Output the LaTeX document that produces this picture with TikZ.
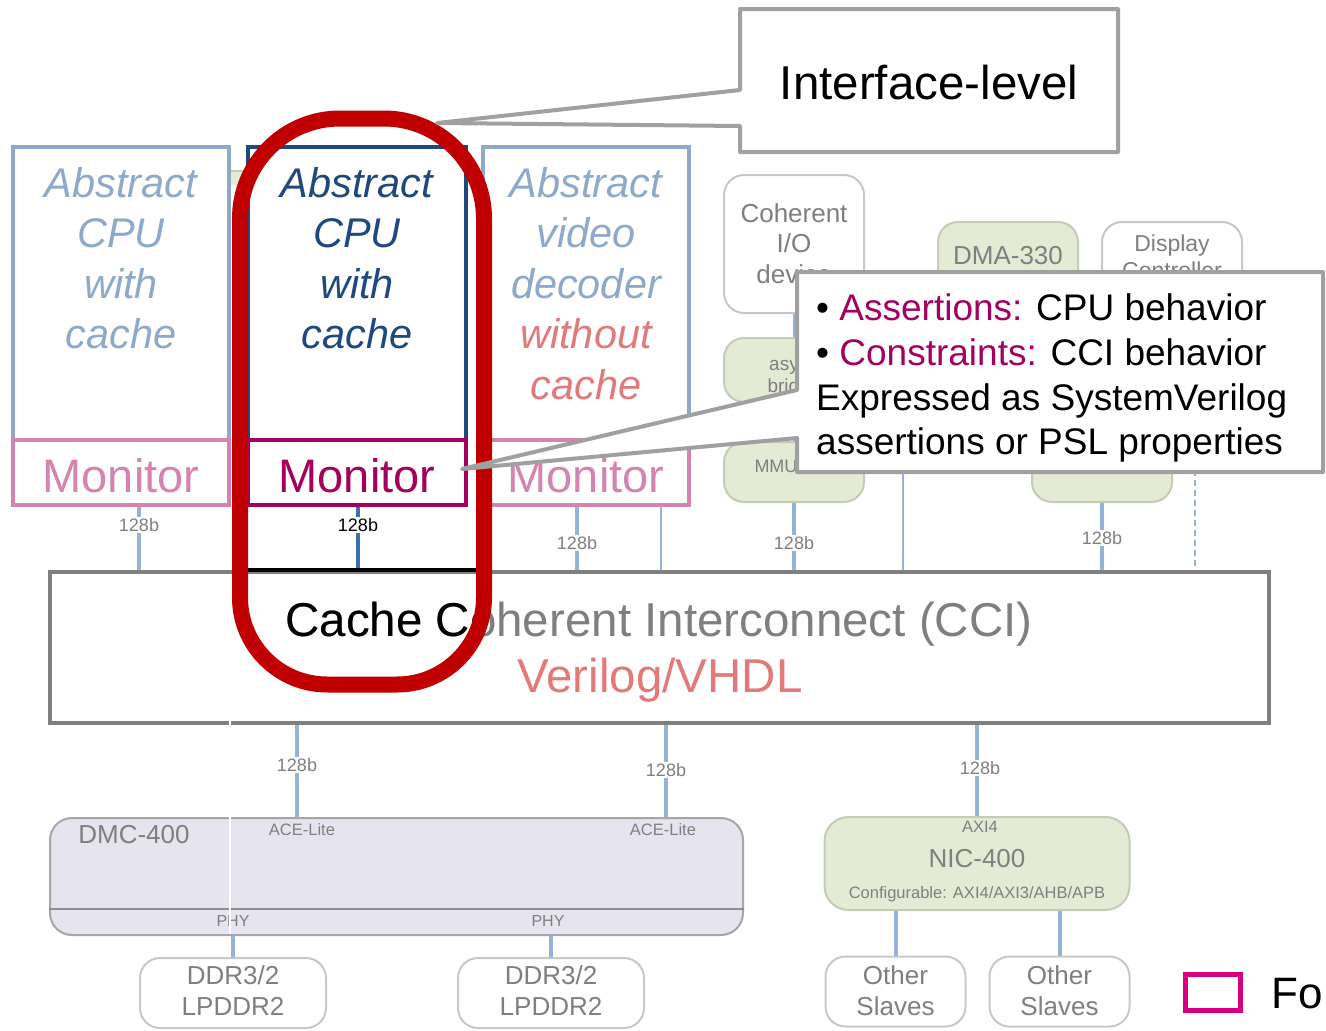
\documentclass[tikz,border=0pt]{standalone}
\usepackage{fontspec}
\setmainfont{Liberation Sans}
\newcommand\fsz[1]{\fontsize{#1}{#1}\selectfont}
\definecolor{paleblue}{HTML}{8EA9C9}
\definecolor{navy}{HTML}{1F497D}
\definecolor{softpink}{HTML}{D584B1}
\definecolor{plum}{HTML}{A3005F}
\definecolor{salmon}{HTML}{E27A7A}
\definecolor{wire}{HTML}{95B3D7}
\definecolor{wiredark}{HTML}{3F6DB3}
\definecolor{fadetxt}{HTML}{7F7F7F}
\definecolor{callgray}{HTML}{A0A0A0}
\definecolor{ccigray}{HTML}{7F7F7F}
\definecolor{ringred}{HTML}{C00000}
\definecolor{sage}{HTML}{E4EBD5}
\definecolor{sageedge}{HTML}{C5CCB6}
\definecolor{plainedge}{HTML}{C8C8C8}
\definecolor{lilac}{HTML}{E6E4EF}
\definecolor{lilacedge}{HTML}{A6A6A6}
\definecolor{legendmag}{HTML}{D6007F}
% centre line of the red highlight ring
\newcommand\ringpath{(240,597.5) -- (240,218.5)
  .. controls (240,163.3) and (284.8,118.5) .. (340,118.5) -- (384,118.5)
  .. controls (439.2,118.5) and (484,163.3) .. (484,218.5) -- (484,597.5)
  .. controls (484,645.5) and (445,684.5) .. (397,684.5) -- (327,684.5)
  .. controls (279,684.5) and (240,645.5) .. (240,597.5) -- cycle}
\begin{document}
\begin{tikzpicture}[x=1pt,y=-1pt,
  boxbase/.style={draw, line width=4pt, fill=white, inner sep=0pt},
  wirefat/.style={draw=wire, line width=4pt},
  wirethin/.style={draw=wire, line width=1.8pt},
  lbl/.style={font=\fsz{18}, text=fadetxt, fill=white, inner sep=1.5pt},
  sagebox/.style={draw=sageedge, fill=sage, line width=2pt, rounded corners=20pt, inner sep=0pt},
  plainbox/.style={draw=plainedge, fill=white, line width=2pt, rounded corners=20pt, inner sep=0pt},
  txt/.style={inner sep=0pt, anchor=base},
  bgtxt/.style={txt, text=fadetxt},
  calloutline/.style={draw=callgray, fill=white, line width=4pt, line join=round},
  cpufont/.style={txt, font=\fsz{41.5}\itshape},
  monfont/.style={txt, font=\fsz{47}},
]
\useasboundingbox (0,0) rectangle (1326,1031);
\fill[white] (0,0) rectangle (1326,1031);

% ---------- background SoC blocks ----------
\node[plainbox, minimum width=140pt, minimum height=138pt] (coh) at (794,244) {};
\node[bgtxt, font=\fsz{26}] (cohA) at (794,222) {Coherent};
\node[bgtxt, font=\fsz{26}] (cohB) at (794,252) {I/O};
\node[bgtxt, font=\fsz{26}] (cohC) at (794,283) {device};
\node[sagebox, minimum width=140pt, minimum height=64pt] (async) at (794,370) {};
\node[bgtxt, font=\fsz{19}] (asyncA) at (794,370) {async};
\node[bgtxt, font=\fsz{19}] (asyncB) at (794,392) {bridge};
\node[sagebox, minimum width=140pt, minimum height=60pt] (mmu) at (794,472) {};
\node[bgtxt, font=\fsz{18}] (mmuT) at (794,472) {MMU-400};
\draw[wirethin] (coh.south) -- (async.north);
\draw[wirethin] (async.south) -- (mmu.north);
\node[sagebox, minimum width=140pt, minimum height=80pt] (dma) at (1008,262) {};
\node[bgtxt, font=\fsz{26}] (dmaT) at (1008,264) {DMA-330};
\node[plainbox, minimum width=140pt, minimum height=80pt] (disp) at (1172,262) {};
\node[bgtxt, font=\fsz{23}] (dispA) at (1172,251) {Display};
\node[bgtxt, font=\fsz{23}] (dispB) at (1172,278) {Controller};
\node[sagebox, minimum width=140pt, minimum height=60pt] (rgreen) at (1102,472) {};
\fill[sage] (231,171) rectangle (248,185);
\draw[sageedge, line width=1.5pt] (231,171) -- (248,171);

% ---------- masters with their monitors ----------
\node[boxbase, draw=paleblue, minimum width=216pt, minimum height=293pt] (cpuA) at (121,293.5) {};
\node[boxbase, draw=softpink, minimum width=216pt, minimum height=65pt] (monA) at (121,472.5) {};
\node[boxbase, draw=paleblue, minimum width=206pt, minimum height=293pt] (vidC) at (586,293.5) {};
\node[boxbase, draw=softpink, minimum width=206pt, minimum height=65pt] (monC) at (586,472.5) {};
\node[boxbase, draw=navy, minimum width=218pt, minimum height=293pt] (cpuB) at (357,293.5) {};
\node[boxbase, draw=plum, minimum width=218pt, minimum height=65pt] (monB) at (357,472.5) {};

\node[cpufont, text=paleblue] (aA1) at (121,197) {Abstract};
\node[cpufont, text=paleblue] (aA2) at (121,247.5) {CPU};
\node[cpufont, text=paleblue] (aA3) at (121,298) {with};
\node[cpufont, text=paleblue] (aA4) at (121,348.5) {cache};
\node[cpufont, text=navy] (aB1) at (357,197) {Abstract};
\node[cpufont, text=navy] (aB2) at (357,247.5) {CPU};
\node[cpufont, text=navy] (aB3) at (357,298) {with};
\node[cpufont, text=navy] (aB4) at (357,348.5) {cache};
\node[cpufont, text=paleblue] (aC1) at (586,197) {Abstract};
\node[cpufont, text=paleblue] (aC2) at (586,247.5) {video};
\node[cpufont, text=paleblue] (aC3) at (586,298) {decoder};
\node[cpufont, text=salmon] (aC4) at (586,348.5) {without};
\node[cpufont, text=salmon] (aC5) at (586,399) {cache};

\node[monfont, text=softpink] (mA) at (121,492) {Monitor};
\node[monfont, text=plum] (mB) at (357,492) {Monitor};
\node[monfont, text=softpink] (mC) at (586,492) {Monitor};

% ---------- interconnect ----------
\node[boxbase, draw=ccigray, minimum width=1219pt, minimum height=151pt] (cci) at (659.5,647.5) {};

\coordinate (pA) at ([xshift=18pt]monA.south);
\coordinate (pB) at ([xshift=1pt]monB.south);
\coordinate (pC) at ([xshift=-9pt]monC.south);
\coordinate (pD) at ([xshift=75pt]monC.south);
\coordinate (pE) at (903,440);
\coordinate (pF) at (1195,440);
\draw[wirefat] (pA) -- (pA |- cci.north);
\draw[draw=wiredark, line width=4pt] (pB) -- (pB |- cci.north);
\draw[wirefat] (pC) -- (pC |- cci.north);
\draw[wirethin] (pD) -- (pD |- cci.north);
\draw[wirefat] (mmu.south) -- (mmu.south |- cci.north);
\draw[wirethin] (pE) -- (pE |- cci.north);
\draw[wirefat] (rgreen.south) -- (rgreen.south |- cci.north);
\draw[wire, line width=1.8pt, dash pattern=on 6pt off 4pt] (pF) -- (pF |- cci.north);
\node[lbl] (wA) at (139,525) {128b};
\node[lbl, text=black] (wB) at (358,525) {128b};
\node[lbl] (wC) at (577,543) {128b};
\node[lbl] (wM) at (794,543) {128b};
\node[lbl] (wR) at (1102,538) {128b};

% redraw the interconnect box over the wire ends
\node[boxbase, draw=ccigray, minimum width=1219pt, minimum height=151pt] (cciTop) at (659.5,647.5) {};
\node[txt, font=\fsz{47.5}, text=fadetxt] (cciT) at (659,636) {Cache Coherent Interconnect (CCI)};
\node[txt, font=\fsz{47.5}, text=salmon] (cciL) at (660,692) {Verilog/VHDL};

% ---------- memory side ----------
\node[draw=lilacedge, fill=lilac, line width=2pt, rounded corners=22pt, inner sep=0pt,
      minimum width=693pt, minimum height=117pt] (dmc) at (396.5,876.5) {};
\draw[draw=lilacedge!85!black, line width=2pt] ([yshift=27pt]dmc.south west) -- ([yshift=27pt]dmc.south east);
\node[bgtxt, font=\fsz{26}] (dmcT) at (134,843) {DMC-400};
\node[font=\fsz{16.5}, text=fadetxt, inner sep=0pt] (ace1) at (302,830) {ACE-Lite};
\node[font=\fsz{16.5}, text=fadetxt, inner sep=0pt] (ace2) at (663,830) {ACE-Lite};
\node[font=\fsz{16}, text=fadetxt, inner sep=0pt] (phy1) at (233,921) {PHY};
\node[font=\fsz{16}, text=fadetxt, inner sep=0pt] (phy2) at (548,921) {PHY};

\coordinate (mA1) at (297,818);
\coordinate (mA2) at (666,818);
\draw[wirefat] (mA1 |- cci.south) -- (mA1);
\draw[wirefat] (mA2 |- cci.south) -- (mA2);
\node[lbl] (wD1) at (297,765) {128b};
\node[lbl] (wD2) at (666,770) {128b};

\node[plainbox, minimum width=186pt, minimum height=70pt] (ddr1) at (233,993) {};
\node[plainbox, minimum width=186pt, minimum height=70pt] (ddr2) at (551,993) {};
\draw[wirefat] (ddr1.north |- dmc.south) -- (ddr1.north);
\draw[wirefat] (ddr2.north |- dmc.south) -- (ddr2.north);
\node[bgtxt, font=\fsz{26}] (ddr1a) at (233,984) {DDR3/2};
\node[bgtxt, font=\fsz{26}] (ddr1b) at (233,1015) {LPDDR2};
\node[bgtxt, font=\fsz{26}] (ddr2a) at (551,984) {DDR3/2};
\node[bgtxt, font=\fsz{26}] (ddr2b) at (551,1015) {LPDDR2};

% ---------- peripheral side ----------
\node[sagebox, rounded corners=24pt, minimum width=305pt, minimum height=93pt] (nic) at (977,863.5) {};
\draw[wirefat] (nic.north |- cci.south) -- (nic.north);
\node[lbl] (wN) at (980,768) {128b};
\node[font=\fsz{16.5}, text=fadetxt, inner sep=0pt] (nicA) at (980,827) {AXI4};
\node[bgtxt, font=\fsz{26}] (nicT) at (977,867) {NIC-400};
\node[font=\fsz{16.5}, text=fadetxt, inner sep=0pt] (nicC) at (977,894) {Configurable: AXI4/AXI3/AHB/APB};
\node[plainbox, minimum width=140pt, minimum height=70pt] (sl1) at (895.5,991.5) {};
\node[plainbox, minimum width=140pt, minimum height=70pt] (sl2) at (1059.5,991.5) {};
\draw[wirefat] (sl1.north |- nic.south) -- (sl1.north);
\draw[wirefat] (sl2.north |- nic.south) -- (sl2.north);
\node[bgtxt, font=\fsz{26}] (sl1a) at (895.5,984) {Other};
\node[bgtxt, font=\fsz{26}] (sl1b) at (895.5,1015) {Slaves};
\node[bgtxt, font=\fsz{26}] (sl2a) at (1059.5,984) {Other};
\node[bgtxt, font=\fsz{26}] (sl2b) at (1059.5,1015) {Slaves};

% thin seam between the two halves of the block diagram
\draw[white, line width=1.2pt] (230,716) -- (230,934);

% ---------- highlighted interface ----------
\begin{scope}
  \clip \ringpath;
  \draw[black, line width=4pt] (cciTop.north west) -- (cciTop.north east);
  \node[txt, font=\fsz{47.5}, text=black] (cciTh) at (659,636) {Cache Coherent Interconnect (CCI)};
\end{scope}
\draw[ringred, line width=16pt] \ringpath;

% ---------- callouts ----------
\draw[calloutline] (740,9) -- (1118,9) -- (1118,152) -- (740,152) -- (740,126)
  -- (437,123) -- (740,90) -- cycle;
\node[txt, font=\fsz{47.5}] (ifT) at (929,99) {Interface-level};

\draw[calloutline] (797,272) -- (1323,272) -- (1323,472) -- (797,472) -- (797,438)
  -- (462,469) -- (797,390) -- cycle;
\node[txt, anchor=base west, font=\fsz{37}] (c1) at (816,320) {\textbullet\ \textcolor{plum}{Assertions:} CPU behavior};
\node[txt, anchor=base west, font=\fsz{37}] (c2) at (816,365) {\textbullet\ \textcolor{plum}{Constraints:} CCI behavior};
\node[txt, anchor=base west, font=\fsz{37}] (c3) at (816,410) {Expressed as SystemVerilog};
\node[txt, anchor=base west, font=\fsz{37}] (c4) at (816,454) {assertions or PSL properties};

% ---------- legend ----------
\node[draw=legendmag, line width=5pt, minimum width=55pt, minimum height=36pt, inner sep=0pt] (leg) at (1212.5,992) {};
\node[txt, anchor=base west, font=\fsz{44}] (legT) at (1271,1008) {Fo};
\end{tikzpicture}
\end{document}
